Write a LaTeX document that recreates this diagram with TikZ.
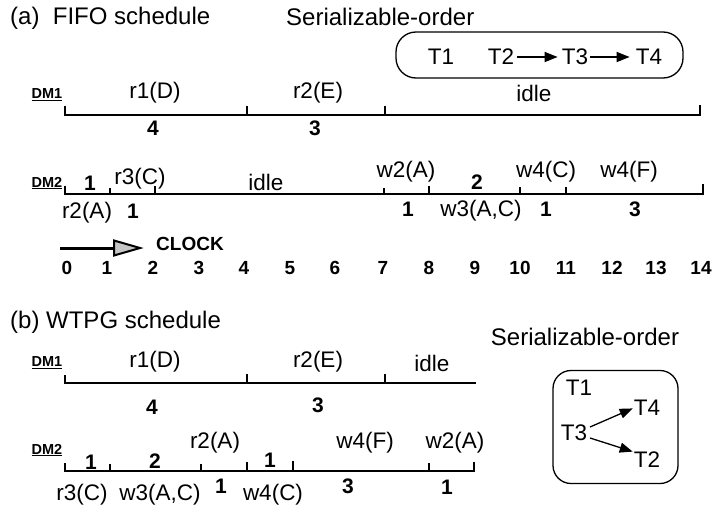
\documentclass[tikz,border=0pt]{standalone}
\usepackage{fontspec}
\setmainfont{Liberation Sans}
\usetikzlibrary{arrows.meta}
\begin{document}
\begin{tikzpicture}[x=1pt,y=-1pt,
  lab/.style={font=\fontsize{22.5}{25}\selectfont, inner sep=0pt},
  ttl/.style={font=\fontsize{24}{27}\selectfont, inner sep=0pt},
  num/.style={font=\fontsize{21}{24}\selectfont\bfseries, inner sep=0pt},
  cnum/.style={font=\fontsize{19}{22}\selectfont\bfseries, inner sep=0pt},
  dm/.style={font=\fontsize{14.5}{16}\selectfont\bfseries, inner sep=0pt},
  tl/.style={line width=1.5pt},
  sarr/.style={-{Triangle[length=13pt,width=10pt]}, line width=1.3pt},
  sbox/.style={draw, line width=1.3pt, rounded corners=20pt, inner sep=0pt}
]
\useasboundingbox (0,0) rectangle (723,506);

% ---------- (a) ----------
\node[ttl, anchor=west] (tta) at (10,18) {(a)\ \ FIFO schedule};
\node[ttl, anchor=west] (soa) at (286,17) {Serializable-order};
\node[sbox, minimum width=287pt, minimum height=46pt] (boxa) at (539.5,55) {};
\node[lab] (a1) at (441,57) {T1};
\node[lab] (a2) at (501,57) {T2};
\node[lab] (a3) at (575,57) {T3};
\node[lab] (a4) at (649,57) {T4};
\draw[sarr, shorten <=3pt, shorten >=4pt] (a2) -- (a3);
\draw[sarr, shorten <=2pt, shorten >=6pt] (a3) -- (a4);

% DM1 (a)
\node[dm] (dma1) at (47,95) {\underline{DM1}};
\draw[tl] (65,106) -- (65,115) -- (700,115) -- (700,105);
\draw[tl] (247,115) -- (247,106);
\draw[tl] (385,115) -- (385,106);
\node[lab] (ar1) at (155,93) {r1(D)};
\node[lab] (ar2) at (318,93) {r2(E)};
\node[lab] (aid1) at (534,93) {idle};
\node[num] (an4) at (153,128) {4};
\node[num] (an3) at (315,128) {3};

% DM2 (a)
\node[dm] (dma2) at (47,183) {\underline{DM2}};
\draw[tl] (65,186) -- (65,194) -- (703,194) -- (703,184);
\draw[tl] (110,194) -- (110,188);
\draw[tl] (155,194) -- (155,186);
\draw[tl] (384,194) -- (384,188);
\draw[tl] (429,194) -- (429,186);
\draw[tl] (520,194) -- (520,187);
\draw[tl] (566,194) -- (566,187);
\node[num] (b1) at (90,183) {1};
\node[lab] (br3) at (140,179) {r3(C)};
\node[lab] (bid) at (266,182) {idle};
\node[lab] (bw2) at (406,172) {w2(A)};
\node[num] (b2) at (477,182) {2};
\node[lab] (bw4c) at (546,172) {w4(C)};
\node[lab] (bw4f) at (629,172) {w4(F)};
\node[lab] (br2) at (87,213) {r2(A)};
\node[num] (bb1) at (133,211) {1};
\node[num] (bb2) at (408,209) {1};
\node[lab] (bw3) at (481,211) {w3(A,C)};
\node[num] (bb3) at (546,209) {1};
\node[num] (bb4) at (635,209) {3};

% clock
\draw[line width=3pt] (60,248) -- (118,248);
\filldraw[fill=gray!45, line width=2pt, line join=miter] (114,240.5) -- (140,248) -- (114,255.5) -- cycle;
\node[cnum, anchor=west] (clk) at (156,244) {CLOCK};
\foreach \t/\x in {0/67,1/107,2/153,3/199,4/244,5/290,6/335,7/383,8/429,9/475,10/520,11/566,12/612,13/656,14/701}
  \node[cnum] (c\t) at (\x,268) {\t};

% ---------- (b) ----------
\node[ttl, anchor=west] (ttb) at (10,322) {(b) WTPG schedule};
\node[ttl] (sob) at (585,337) {Serializable-order};
\node[sbox, rounded corners=18pt, minimum width=125pt, minimum height=113pt] (boxb) at (615.5,427) {};
\node[lab] (t1) at (579,388) {T1};
\node[lab] (t4) at (647,408) {T4};
\node[lab] (t3) at (574,433) {T3};
\node[lab] (t2) at (647,460) {T2};
\draw[sarr, shorten >=1pt] (590,427) -- (t4.west);
\draw[sarr, shorten >=1pt] (590,438) -- (t2.north west);

% DM1 (b)
\node[dm] (dmb1) at (47,363) {\underline{DM1}};
\draw[tl] (65,375) -- (65,383) -- (476,383);
\draw[tl] (247,383) -- (247,374);
\draw[tl] (385,383) -- (385,374);
\node[lab] (cr1) at (155,362) {r1(D)};
\node[lab] (cr2) at (318,362) {r2(E)};
\node[lab] (cid) at (432,363) {idle};
\node[num] (cn4) at (152,407) {4};
\node[num] (cn3) at (318,405) {3};

% DM2 (b)
\node[dm] (dmb2) at (47,450) {\underline{DM2}};
\draw[tl] (65,463) -- (65,471) -- (474,471) -- (474,462);
\draw[tl] (110,471) -- (110,464);
\draw[tl] (201,471) -- (201,464);
\draw[tl] (247,471) -- (247,462);
\draw[tl] (293,471) -- (293,461);
\draw[tl] (429,471) -- (429,463);
\node[num] (d1) at (91,462) {1};
\node[num] (d2) at (155,461) {2};
\node[lab] (dr2) at (215,443) {r2(A)};
\node[num] (d3) at (270,460) {1};
\node[lab] (dw4f) at (365,443) {w4(F)};
\node[lab] (dw2) at (455,443) {w2(A)};
\node[lab] (dr3) at (82,495) {r3(C)};
\node[lab] (dw3) at (160,495) {w3(A,C)};
\node[num] (dd1) at (221,486) {1};
\node[lab] (dw4c) at (273,495) {w4(C)};
\node[num] (dd3) at (348,486) {3};
\node[num] (dd4) at (447,487) {1};
\end{tikzpicture}
\end{document}
